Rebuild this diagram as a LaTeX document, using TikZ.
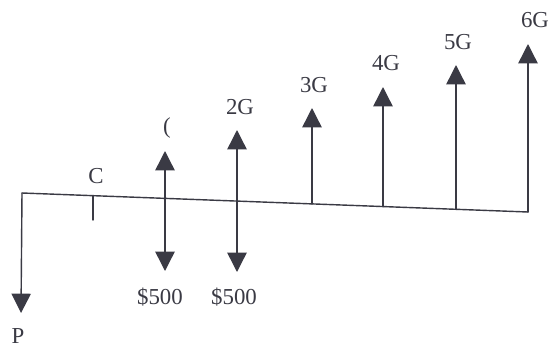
\documentclass[tikz,border=0pt]{standalone}
\usepackage{fontspec}
\setmainfont{Liberation Serif}
\usetikzlibrary{arrows.meta}
\definecolor{ink}{HTML}{3A3A44}
\begin{document}
\begin{tikzpicture}[>={Triangle[width=11pt,length=11pt]},x=0.02cm,y=-0.02cm, line join=round, line cap=round,
	flow/.style={draw=ink,fill=ink,line width=0.8pt},
	lab/.style={text=ink,font=\fontsize{13}{15}\selectfont,inner sep=0pt}]
				\useasboundingbox (0,0) rectangle (552,349);
				% time line
				\coordinate (t0) at (22,193);
				\coordinate (t6) at (528,212);
				\coordinate (b1) at (165,198.4);
				\coordinate (b2) at (237,201.1);
				\coordinate (b3) at (312,203.9);
				\coordinate (b4) at (383,206.6);
				\coordinate (b5) at (456,209.3);
				\coordinate (k) at (93,195.7);
				\coordinate (k2) at (93,220);
				\draw[ink,line width=0.8pt] (t0)--(t6);
				\draw[ink,line width=0.8pt] (k)--(k2);
				% arrow tips
				\coordinate (p) at (21,313);
				\coordinate (u1) at (165,151);
				\coordinate (d1) at (165,271);
				\coordinate (u2) at (237,130);
				\coordinate (d2) at (237,272);
				\coordinate (u3) at (312,108);
				\coordinate (u4) at (383,87);
				\coordinate (u5) at (456,65);
				\coordinate (u6) at (528,44);
				\draw[flow,->] (t0)--(p);
				\draw[flow,<->] (u1)--(d1);
				\draw[flow,<->] (u2)--(d2);
				\draw[flow,->] (b3)--(u3);
				\draw[flow,->] (b4)--(u4);
				\draw[flow,->] (b5)--(u5);
				\draw[flow,->] (t6)--(u6);
				% labels
				\node[lab] (lp) at (18,336) {P};
				\node[lab] (lk) at (96,176) {C};
				\node[lab] (l1) at (167,128) {(};
				\node[lab] (l2) at (240,107) {2G};
				\node[lab] (l3) at (314,85) {3G};
				\node[lab] (l4) at (386,63) {4G};
				\node[lab] (l5) at (458,42) {5G};
				\node[lab] (l6) at (535,20) {6G};
				\node[lab] (m1) at (160,297) {\$500};
				\node[lab] (m2) at (234,297) {\$500};
			\end{tikzpicture}
\end{document}
